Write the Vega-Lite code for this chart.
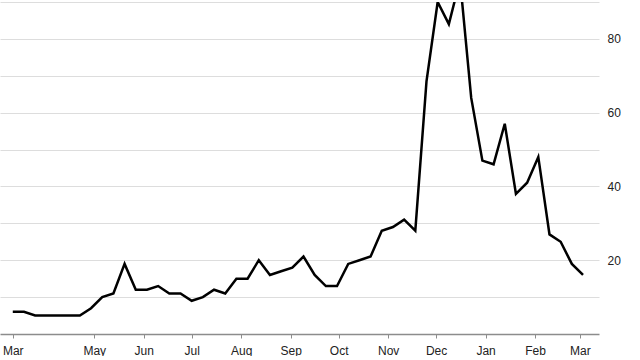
{
  "$schema": "https://vega.github.io/schema/vega-lite/v6.json",
  "width": 599,
  "height": 332,
  "padding": {"left": 0, "top": 2, "right": 0, "bottom": 0},
  "background": "white",
  "config": {
    "view": {"stroke": null},
    "font": "Liberation Sans",
    "axis": {"labelFont": "Liberation Sans", "labelFontSize": 12, "labelColor": "#222222"}
  },
  "data": {
    "values": [
      {"date": "2020-03-11", "value": 6},
      {"date": "2020-03-18", "value": 6},
      {"date": "2020-03-25", "value": 5},
      {"date": "2020-04-01", "value": 5},
      {"date": "2020-04-08", "value": 5},
      {"date": "2020-04-15", "value": 5},
      {"date": "2020-04-22", "value": 5},
      {"date": "2020-04-29", "value": 7},
      {"date": "2020-05-06", "value": 10},
      {"date": "2020-05-13", "value": 11},
      {"date": "2020-05-20", "value": 19},
      {"date": "2020-05-27", "value": 12},
      {"date": "2020-06-03", "value": 12},
      {"date": "2020-06-10", "value": 13},
      {"date": "2020-06-17", "value": 11},
      {"date": "2020-06-24", "value": 11},
      {"date": "2020-07-01", "value": 9},
      {"date": "2020-07-08", "value": 10},
      {"date": "2020-07-15", "value": 12},
      {"date": "2020-07-22", "value": 11},
      {"date": "2020-07-29", "value": 15},
      {"date": "2020-08-05", "value": 15},
      {"date": "2020-08-12", "value": 20},
      {"date": "2020-08-19", "value": 16},
      {"date": "2020-08-26", "value": 17},
      {"date": "2020-09-02", "value": 18},
      {"date": "2020-09-09", "value": 21},
      {"date": "2020-09-16", "value": 16},
      {"date": "2020-09-23", "value": 13},
      {"date": "2020-09-30", "value": 13},
      {"date": "2020-10-07", "value": 19},
      {"date": "2020-10-14", "value": 20},
      {"date": "2020-10-21", "value": 21},
      {"date": "2020-10-28", "value": 28},
      {"date": "2020-11-04", "value": 29},
      {"date": "2020-11-11", "value": 31},
      {"date": "2020-11-18", "value": 28},
      {"date": "2020-11-25", "value": 68.5},
      {"date": "2020-12-02", "value": 90},
      {"date": "2020-12-09", "value": 84},
      {"date": "2020-12-16", "value": 96},
      {"date": "2020-12-23", "value": 64},
      {"date": "2020-12-30", "value": 47},
      {"date": "2021-01-06", "value": 46},
      {"date": "2021-01-13", "value": 57},
      {"date": "2021-01-20", "value": 38},
      {"date": "2021-01-27", "value": 41},
      {"date": "2021-02-03", "value": 48},
      {"date": "2021-02-10", "value": 27},
      {"date": "2021-02-17", "value": 25},
      {"date": "2021-02-24", "value": 19},
      {"date": "2021-03-03", "value": 16}
    ],
    "format": {"parse": {"date": "date:'%Y-%m-%d'"}}
  },
  "mark": {"type": "line", "color": "black", "strokeWidth": 2.5, "clip": true},
  "encoding": {
    "x": {
      "field": "date",
      "type": "temporal",
      "scale": {
        "domain": [{"year": 2020, "month": 3, "date": 3}, {"year": 2021, "month": 3, "date": 13}],
        "nice": false
      },
      "axis": {
        "title": null,
        "grid": false,
        "format": "%b",
        "values": [
          {"year": 2020, "month": 3, "date": 11},
          {"year": 2020, "month": 5, "date": 1},
          {"year": 2020, "month": 6, "date": 1},
          {"year": 2020, "month": 7, "date": 1},
          {"year": 2020, "month": 8, "date": 1},
          {"year": 2020, "month": 9, "date": 1},
          {"year": 2020, "month": 10, "date": 1},
          {"year": 2020, "month": 11, "date": 1},
          {"year": 2020, "month": 12, "date": 1},
          {"year": 2021, "month": 1, "date": 1},
          {"year": 2021, "month": 2, "date": 1},
          {"year": 2021, "month": 3, "date": 1}
        ],
        "domainColor": "#8c8c8c",
        "domainWidth": 1.5,
        "tickColor": "#8c8c8c",
        "tickWidth": 1,
        "tickSize": 4,
        "labelPadding": 7,
        "labelFlush": false,
        "labelOverlap": false
      }
    },
    "y": {
      "field": "value",
      "type": "quantitative",
      "scale": {"domain": [0, 90], "nice": false, "zero": true},
      "axis": {
        "title": null,
        "orient": "right",
        "values": [10, 20, 30, 40, 50, 60, 70, 80, 90],
        "labelExpr": "datum.value % 20 == 0 ? datum.label : ''",
        "grid": true,
        "gridColor": "#dddddd",
        "gridWidth": 1.2,
        "domain": false,
        "ticks": false,
        "tickSize": 0,
        "labelPadding": 8,
        "labelAlign": "left",
        "labelBaseline": "middle"
      }
    }
  }
}
